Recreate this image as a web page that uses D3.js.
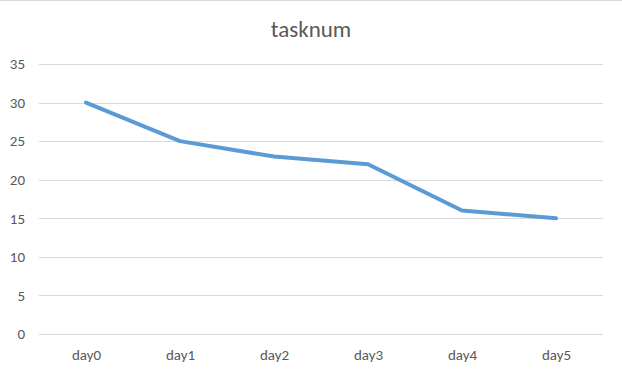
<!DOCTYPE html>
<html>
<head>
<meta charset="utf-8">
<script src="https://cdn.jsdelivr.net/npm/d3@7"></script>
<style>
  body { margin: 0; background: #fff; }
  text { font-family: Carlito, Calibri, "Liberation Sans", sans-serif; fill: #595959; }
</style>
</head>
<body>
<svg class="js-render-chart" width="622" height="373"></svg>
<script>
"use strict";

//data

const categories = ["day0", "day1", "day2", "day3", "day4", "day5"];
const tasknum = [30, 25, 23, 22, 16, 15];
const yTicks = [0, 5, 10, 15, 20, 25, 30, 35];
const title = "tasknum";

//params

const W = 622;
const H = 373;
const m = { t: 64, r: 19, b: 39, l: 39 };
const font = "Carlito, Calibri, 'Liberation Sans', sans-serif";

const svg = d3.select(".js-render-chart");

//frame

svg.append("line")
  .attr("x1", 0).attr("x2", W)
  .attr("y1", 0.5).attr("y2", 0.5)
  .attr("stroke", "#d9d9d9");

//scales

const x = d3.scalePoint()
  .domain(categories)
  .range([m.l, W - m.r])
  .padding(0.5);

const y = d3.scaleLinear()
  .domain([0, 35])
  .range([H - m.b, m.t]);

//grid

svg.append("g")
  .selectAll("line")
  .data(yTicks)
  .join("line")
  .attr("x1", m.l)
  .attr("x2", W - m.r)
  .attr("y1", d => Math.round(y(d)) + 0.5)
  .attr("y2", d => Math.round(y(d)) + 0.5)
  .attr("stroke", "#d9d9d9")
  .attr("stroke-width", 1);

//axes

const ya = d3.axisLeft(y).tickValues(yTicks).tickSize(0).tickPadding(14);
const xa = d3.axisBottom(x).tickSize(0).tickPadding(15);

svg.append("g")
  .attr("transform", `translate(${m.l}, 0)`)
  .call(ya)
  .call(g => g.select(".domain").remove())
  .selectAll("text")
  .attr("font-size", 15)
  .style("font-family", font)
  .attr("fill", "#595959");

svg.append("g")
  .attr("transform", `translate(0, ${H - m.b})`)
  .call(xa)
  .call(g => g.select(".domain").remove())
  .selectAll("text")
  .attr("font-size", 15)
  .style("font-family", font)
  .attr("fill", "#595959");

//line

const line = d3.line()
  .x((d, i) => x(categories[i]))
  .y(d => y(d));

svg.append("path")
  .datum(tasknum)
  .attr("d", line)
  .attr("fill", "none")
  .attr("stroke", "#5b9bd5")
  .attr("stroke-width", 4)
  .attr("stroke-linejoin", "round")
  .attr("stroke-linecap", "round");

//title

svg.append("text")
  .attr("x", W / 2)
  .attr("y", 37)
  .attr("text-anchor", "middle")
  .attr("font-size", 23)
  .style("font-family", font)
  .text(title);
</script>
</body>
</html>
